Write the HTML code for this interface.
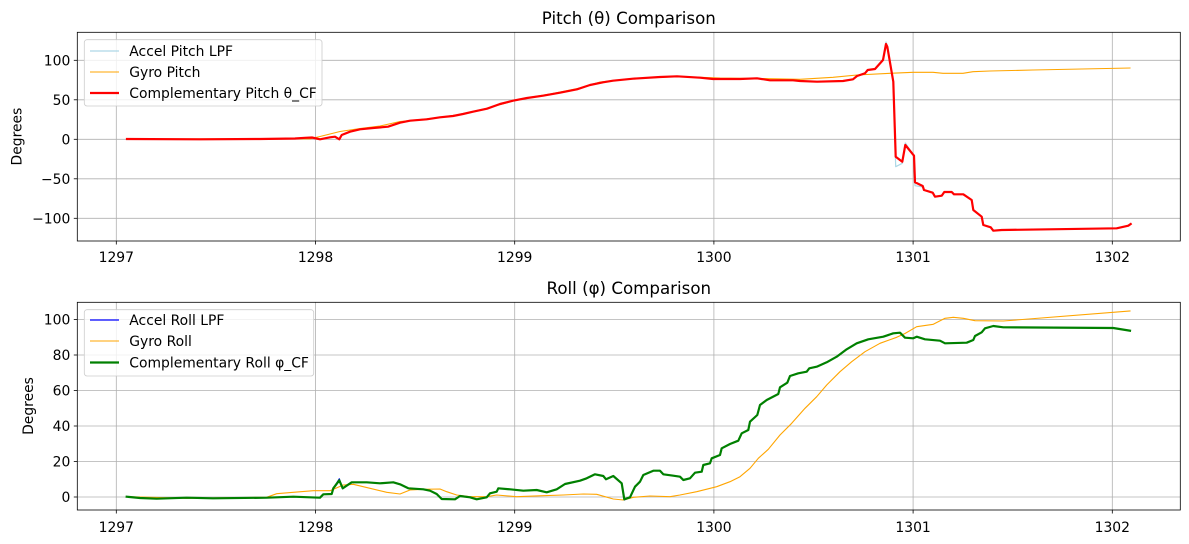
<!DOCTYPE html>
<html><head><meta charset="utf-8"><style>
html,body{margin:0;padding:0;background:#fff;}
svg{display:block;}
text{font-family:"DejaVu Sans","Liberation Sans",sans-serif;fill:#000;}
</style></head><body>
<svg width="1189" height="544" viewBox="0 0 1189 544" xmlns="http://www.w3.org/2000/svg">
<defs>
<clipPath id="c1"><rect x="77.3" y="32.3" width="1103" height="208.7"/></clipPath>
<clipPath id="c2"><rect x="77.3" y="302.3" width="1103" height="207.7"/></clipPath>
</defs>
<rect width="1189" height="544" fill="#fff"/>

<!-- ===== TOP AXES ===== -->
<g stroke="#b0b0b0" stroke-width="0.8">
<line x1="116.3" y1="32.3" x2="116.3" y2="241"/>
<line x1="315.5" y1="32.3" x2="315.5" y2="241"/>
<line x1="514.7" y1="32.3" x2="514.7" y2="241"/>
<line x1="713.9" y1="32.3" x2="713.9" y2="241"/>
<line x1="913.1" y1="32.3" x2="913.1" y2="241"/>
<line x1="1112.3" y1="32.3" x2="1112.3" y2="241"/>
<line x1="77.3" y1="60.3" x2="1180.3" y2="60.3"/>
<line x1="77.3" y1="99.8" x2="1180.3" y2="99.8"/>
<line x1="77.3" y1="139.3" x2="1180.3" y2="139.3"/>
<line x1="77.3" y1="178.8" x2="1180.3" y2="178.8"/>
<line x1="77.3" y1="218.3" x2="1180.3" y2="218.3"/>
</g>
<g clip-path="url(#c1)" fill="none" stroke-linejoin="round" stroke-linecap="square">
<polyline stroke="#add8e6" stroke-width="1.2" points="127,139 200,139.3 260,139 295,138.5 305,137.8 312,137.5 320,139.3 330,137.3 335,136.7 339.3,139.3 341.7,135 350,131.7 360,129.3 373,128 388,126.7 400,122.7 410,120.7 426.7,119.3 440,117.3 453,116 463,114 473,111.7 487,108.7 500,104 513,100.7 527,98 543,95.7 560,92.7 577,89.3 590,85 603,82.3 613,80.7 633,78.7 660,77 677,76.3 700,77.7 713,79 740,79 757,78.3 770,80.3 793,80.3 800,81 817,81.7 843,81 853,79.3 857,76 865,73.3 867.7,70 875,69 883,60 886,42 887.3,46.7 893.3,81.7 895.7,166.7 902.3,163.3 905.3,143 914,155.7 915,185.7 922.7,187 924,190 932.7,192.7 935,196.7 941.7,195.7 944.3,192 951.7,192 954,194.3 963.3,194.3 971.7,200 973.3,210 981.7,216.7 983.3,225 990.7,227.3 993.3,230.7 1001.7,230 1116.7,228.3 1128.3,225.7 1130.7,224"/>
<polyline stroke="#ffa500" stroke-width="1.1" points="127,139 310,138.8 320,136.5 340,131.5 360,128.5 380,126 400,121.5 430,118.5 460,114.5 490,107.5 520,99 550,94 580,88 600,82 633,78.5 680,76.5 720,78 760,78.5 800,79.3 833,77.3 857,75 890,73.3 913,72.3 933,72.3 943,73.3 963,73.3 973,71.7 990,71 1033,70 1130,68"/>
<polyline stroke="#ff0000" stroke-width="2.2" points="127,139 200,139.3 260,139 295,138.5 305,137.8 312,137.5 320,139.3 330,137.3 335,136.7 339.3,139.3 341.7,135 350,131.7 360,129.3 373,128 388,126.7 400,122.7 410,120.7 426.7,119.3 440,117.3 453,116 463,114 473,111.7 487,108.7 500,104 513,100.7 527,98 543,95.7 560,92.7 577,89.3 590,85 603,82.3 613,80.7 633,78.7 660,77 677,76.3 700,77.7 713,79 740,79 757,78.3 770,80.3 793,80.3 800,81 817,81.7 843,81 853,79.3 857,76 865,73.3 867.7,70 875,69 883,60 886,44 887.3,46.7 893.3,81.7 895.7,156.7 902.3,161.7 905.3,145 914,155.7 915,182.3 922.7,186 924,190 932.7,192.7 935,196.7 941.7,195.7 944.3,192 951.7,192 954,194.3 963.3,194.3 971.7,200 973.3,210 981.7,216.7 983.3,225 990.7,227.3 993.3,230.7 1001.7,230 1116.7,228.3 1128.3,225.7 1130.7,224"/>
</g>
<rect x="77.3" y="32.3" width="1103" height="208.7" fill="none" stroke="#000" stroke-width="0.8"/>
<g stroke="#000" stroke-width="0.8">
<line x1="116.3" y1="241" x2="116.3" y2="244.5"/>
<line x1="315.5" y1="241" x2="315.5" y2="244.5"/>
<line x1="514.7" y1="241" x2="514.7" y2="244.5"/>
<line x1="713.9" y1="241" x2="713.9" y2="244.5"/>
<line x1="913.1" y1="241" x2="913.1" y2="244.5"/>
<line x1="1112.3" y1="241" x2="1112.3" y2="244.5"/>
<line x1="73.8" y1="60.3" x2="77.3" y2="60.3"/>
<line x1="73.8" y1="99.8" x2="77.3" y2="99.8"/>
<line x1="73.8" y1="139.3" x2="77.3" y2="139.3"/>
<line x1="73.8" y1="178.8" x2="77.3" y2="178.8"/>
<line x1="73.8" y1="218.3" x2="77.3" y2="218.3"/>
</g>
<g font-size="13.9" text-anchor="middle">
<text x="116.3" y="262">1297</text>
<text x="315.5" y="262">1298</text>
<text x="514.7" y="262">1299</text>
<text x="713.9" y="262">1300</text>
<text x="913.1" y="262">1301</text>
<text x="1112.3" y="262">1302</text>
</g>
<g font-size="13.9" text-anchor="end">
<text x="70.3" y="65.3">100</text>
<text x="70.3" y="104.8">50</text>
<text x="70.3" y="144.3">0</text>
<text x="70.3" y="183.8">−50</text>
<text x="70.3" y="223.3">−100</text>
</g>
<text font-size="13.9" text-anchor="middle" transform="translate(21.5,136.6) rotate(-90)">Degrees</text>
<text font-size="16.67" text-anchor="middle" x="628.8" y="24">Pitch (θ) Comparison</text>
<!-- legend top -->
<rect x="84.3" y="39.7" width="237.7" height="66.3" rx="2.8" fill="#fff" fill-opacity="0.8" stroke="#cccccc" stroke-width="0.8"/>
<line x1="90" y1="51" x2="119" y2="51" stroke="#add8e6" stroke-width="1.2"/>
<line x1="90" y1="72" x2="119" y2="72" stroke="#ffa500" stroke-width="1.1"/>
<line x1="90" y1="93" x2="119" y2="93" stroke="#ff0000" stroke-width="2.2"/>
<g font-size="13.9">
<text x="129.3" y="56">Accel Pitch LPF</text>
<text x="129.3" y="77">Gyro Pitch</text>
<text x="129.3" y="98">Complementary Pitch θ_CF</text>
</g>

<!-- ===== BOTTOM AXES ===== -->
<g stroke="#b0b0b0" stroke-width="0.8">
<line x1="116.3" y1="302.3" x2="116.3" y2="510"/>
<line x1="315.5" y1="302.3" x2="315.5" y2="510"/>
<line x1="514.7" y1="302.3" x2="514.7" y2="510"/>
<line x1="713.9" y1="302.3" x2="713.9" y2="510"/>
<line x1="913.1" y1="302.3" x2="913.1" y2="510"/>
<line x1="1112.3" y1="302.3" x2="1112.3" y2="510"/>
<line x1="77.3" y1="319.5" x2="1180.3" y2="319.5"/>
<line x1="77.3" y1="355" x2="1180.3" y2="355"/>
<line x1="77.3" y1="390.5" x2="1180.3" y2="390.5"/>
<line x1="77.3" y1="426" x2="1180.3" y2="426"/>
<line x1="77.3" y1="461.5" x2="1180.3" y2="461.5"/>
<line x1="77.3" y1="497" x2="1180.3" y2="497"/>
</g>
<g clip-path="url(#c2)" fill="none" stroke-linejoin="round" stroke-linecap="square">
<polyline stroke="#0000ff" stroke-width="1.2" points="126.7,496.7 140,498 156.7,498.7 186.7,497.7 213,498.3 266.7,497.7 293.3,496.7 320,497.7 323.3,494.3 331.7,494 333.3,488.3 339.3,478.8 342.7,488.8 351.7,482.3 366.7,482.3 380,483.3 393.3,482.3 400,484.3 408.3,488.3 423.3,489.3 430,490.7 436.7,494 441.7,499 455,499.3 460,496 470,497.3 476.7,499.3 486.7,497.3 490,493.3 496.7,491.7 498.3,488.3 510,489.3 523.3,490.7 536.7,490 546.7,492.3 556.7,489.3 565,484 580,480.7 586.7,478.3 595,474.3 603.3,476 606,479.3 613.3,476 621.7,483.3 624.3,500 630,497.3 635,486.7 640,481.7 643.3,475 653.3,470.7 660,470.7 663.3,474.3 673.3,475.7 680,476.7 683.3,480 690,478.3 695,472.7 701.7,471.7 703.3,465 710,463.3 711.7,458.3 720,455 721.7,448.3 730,444 738.3,440.7 741.7,433.3 748.3,430 750,421.7 757.3,415 760,405 766.7,400 778.3,394 780,387.3 787.3,382.7 790,376 798.3,373.3 806.7,371.7 809.3,368.3 816.7,366.7 826.7,362.3 836.7,356.7 846.7,349.3 856.7,343.3 868.3,339.3 883.3,336.7 893.3,333.3 900,332.7 905,337.7 913.3,338.3 916.7,336.7 925,339.3 940,340.7 945,343.3 966.7,342.7 973.3,340 975,336 981.7,332.3 985,328.3 993.3,326 1003.3,327.3 1113.3,328 1130,330.7"/>
<polyline stroke="#ffa500" stroke-width="1.1" points="126.7,496.7 186.7,498.3 266.7,497.3 276.7,493.7 293.3,492.3 313.3,490.7 330,490.7 343.3,485 353.3,484.3 370,488.3 386.7,492.3 400,494 410,490 423.3,489.3 440,489 446.7,491.7 456.7,495 470,496.7 486.7,496.7 496.7,495 516.7,496.7 543.3,495.7 563.3,495 583.3,494 596.7,494.3 613.3,499 623.3,500 633.3,497.3 650,496 670,496.7 680,495 696.7,491.7 716.7,486.7 730,481.7 740,476.7 750,468.3 758.3,458.3 768.3,449.3 780,435 791.7,423.3 805,408.3 816.7,396.7 826.7,385 840,371.7 851.7,361.7 865,351.7 880,343.3 896.7,337.3 905,333.5 916.7,326.7 933.3,324.3 945,318.3 953.3,317.3 963.3,318.3 975,320.7 1003.3,321 1130,311"/>
<polyline stroke="#008000" stroke-width="2.2" points="126.7,496.7 140,498 156.7,498.7 186.7,497.7 213,498.3 266.7,497.7 293.3,496.7 320,497.7 323.3,494.3 331.7,494 333.3,488.3 339.3,480.3 342.7,488.3 351.7,482.3 366.7,482.3 380,483.3 393.3,482.3 400,484.3 408.3,488.3 423.3,489.3 430,490.7 436.7,494 441.7,499 455,499.3 460,496 470,497.3 476.7,499.3 486.7,497.3 490,493.3 496.7,491.7 498.3,488.3 510,489.3 523.3,490.7 536.7,490 546.7,492.3 556.7,489.3 565,484 580,480.7 586.7,478.3 595,474.3 603.3,476 606,479.3 613.3,476 621.7,483.3 624.3,499.3 630,497.3 635,486.7 640,481.7 643.3,475 653.3,470.7 660,470.7 663.3,474.3 673.3,475.7 680,476.7 683.3,480 690,478.3 695,472.7 701.7,471.7 703.3,465 710,463.3 711.7,458.3 720,455 721.7,448.3 730,444 738.3,440.7 741.7,433.3 748.3,430 750,421.7 757.3,415 760,405 766.7,400 778.3,394 780,387.3 787.3,382.7 790,376 798.3,373.3 806.7,371.7 809.3,368.3 816.7,366.7 826.7,362.3 836.7,356.7 846.7,349.3 856.7,343.3 868.3,339.3 883.3,336.7 893.3,333.3 900,332.7 905,337.7 913.3,338.3 916.7,336.7 925,339.3 940,340.7 945,343.3 966.7,342.7 973.3,340 975,336 981.7,332.3 985,328.3 993.3,326 1003.3,327.3 1113.3,328 1130,330.7"/>
</g>
<rect x="77.3" y="302.3" width="1103" height="207.7" fill="none" stroke="#000" stroke-width="0.8"/>
<g stroke="#000" stroke-width="0.8">
<line x1="116.3" y1="510" x2="116.3" y2="513.5"/>
<line x1="315.5" y1="510" x2="315.5" y2="513.5"/>
<line x1="514.7" y1="510" x2="514.7" y2="513.5"/>
<line x1="713.9" y1="510" x2="713.9" y2="513.5"/>
<line x1="913.1" y1="510" x2="913.1" y2="513.5"/>
<line x1="1112.3" y1="510" x2="1112.3" y2="513.5"/>
<line x1="73.8" y1="319.5" x2="77.3" y2="319.5"/>
<line x1="73.8" y1="355" x2="77.3" y2="355"/>
<line x1="73.8" y1="390.5" x2="77.3" y2="390.5"/>
<line x1="73.8" y1="426" x2="77.3" y2="426"/>
<line x1="73.8" y1="461.5" x2="77.3" y2="461.5"/>
<line x1="73.8" y1="497" x2="77.3" y2="497"/>
</g>
<g font-size="13.9" text-anchor="middle">
<text x="116.3" y="532">1297</text>
<text x="315.5" y="532">1298</text>
<text x="514.7" y="532">1299</text>
<text x="713.9" y="532">1300</text>
<text x="913.1" y="532">1301</text>
<text x="1112.3" y="532">1302</text>
</g>
<g font-size="13.9" text-anchor="end">
<text x="70.3" y="324.5">100</text>
<text x="70.3" y="360">80</text>
<text x="70.3" y="395.5">60</text>
<text x="70.3" y="431">40</text>
<text x="70.3" y="466.5">20</text>
<text x="70.3" y="502">0</text>
</g>
<text font-size="13.9" text-anchor="middle" transform="translate(33.2,406) rotate(-90)">Degrees</text>
<text font-size="16.67" text-anchor="middle" x="628.8" y="294">Roll (φ) Comparison</text>
<!-- legend bottom -->
<rect x="84.3" y="309.7" width="229.4" height="66.3" rx="2.8" fill="#fff" fill-opacity="0.8" stroke="#cccccc" stroke-width="0.8"/>
<line x1="90" y1="320" x2="119" y2="320" stroke="#0000ff" stroke-width="1.2"/>
<line x1="90" y1="341" x2="119" y2="341" stroke="#ffa500" stroke-width="1.1"/>
<line x1="90" y1="362.5" x2="119" y2="362.5" stroke="#008000" stroke-width="2.2"/>
<g font-size="13.9">
<text x="129.3" y="325">Accel Roll LPF</text>
<text x="129.3" y="346">Gyro Roll</text>
<text x="129.3" y="367.5">Complementary Roll φ_CF</text>
</g>
</svg>
</body></html>
